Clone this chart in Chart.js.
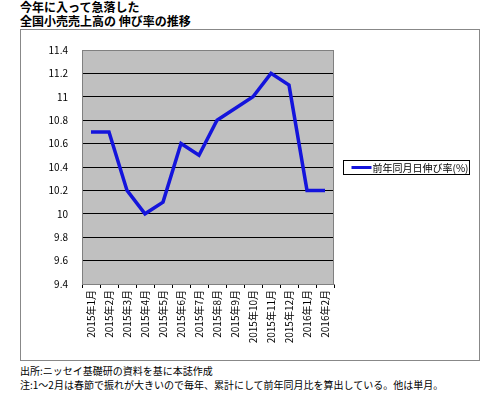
<!DOCTYPE html>
<html>
<head>
<meta charset="utf-8">
<script src="https://cdn.jsdelivr.net/npm/chart.js@4"></script>
<style>
  html, body { margin:0; padding:0; background:#fff; }
  body { width:500px; height:397px; position:relative; overflow:hidden;
         font-family:"Noto Sans CJK JP", "Noto Sans", sans-serif; color:#000; }
  .title { position:absolute; left:20px; top:0px; font-size:12px; font-weight:bold; line-height:14px; }
  .frame { position:absolute; left:20px; top:29px; width:460px; height:332px;
           border:1px solid #888; box-sizing:border-box; }
  .frame canvas { position:absolute; left:0; top:0; }
  .note { position:absolute; left:20px; top:364px; font-size:10px; line-height:14px; }
</style>
</head>
<body>
<div class="title">今年に入って急落した<br>全国小売売上高の 伸び率の推移</div>
<div class="frame"><canvas id="c" width="458" height="330"></canvas></div>
<div class="note">出所:ニッセイ基礎研の資料を基に本誌作成<br>注:1～2月は春節で振れが大きいので毎年、累計にして前年同月比を算出している。他は単月。</div>
<script>
// months on the x axis
const months = ['2015年1月','2015年2月','2015年3月','2015年4月','2015年5月','2015年6月','2015年7月',
                '2015年8月','2015年9月','2015年10月','2015年11月','2015年12月','2016年1月','2016年2月'];
// 前年同月日伸び率 (%)
const growth = [10.7, 10.7, 10.2, 10.0, 10.1, 10.6, 10.5, 10.8, 10.9, 11.0, 11.2, 11.1, 10.2, 10.2];
const yMin = 9.4, yMax = 11.4, yStep = 0.2;
const seriesName = '前年同月日伸び率(%)';

const FONT = '"Noto Sans CJK JP", "Noto Sans", sans-serif';
const LINE = '#1414dc';

// grey plot background + grey border round the plot
const plotBg = {
  id: 'plotBg',
  beforeDraw(chart){
    const a = chart.chartArea, ctx = chart.ctx;
    ctx.save();
    ctx.fillStyle = '#c0c0c0';
    ctx.fillRect(a.left, a.top, a.right - a.left, a.bottom - a.top);
    ctx.restore();
  },
  afterDatasetsDraw(chart){
    const a = chart.chartArea, ctx = chart.ctx;
    ctx.save();
    ctx.strokeStyle = '#808080';
    ctx.lineWidth = 1;
    ctx.strokeRect(a.left + 0.5, a.top + 0.5, a.right - a.left - 1, a.bottom - a.top);
    ctx.restore();
  }
};

// boxed legend to the right of the plot, spreadsheet style
const sideLegend = {
  id: 'sideLegend',
  afterDraw(chart){
    const a = chart.chartArea, ctx = chart.ctx;
    const ds = chart.data.datasets[0];
    const x = Math.round(a.right) + 9.5, w = 126, h = 14;
    const y = Math.round((a.top + a.bottom) / 2 - h / 2) + 0.5;
    ctx.save();
    ctx.fillStyle = '#fff';
    ctx.fillRect(x, y, w, h);
    ctx.strokeStyle = '#000';
    ctx.lineWidth = 1;
    ctx.strokeRect(x, y, w, h);
    ctx.strokeStyle = ds.borderColor;
    ctx.lineWidth = 3;
    ctx.beginPath();
    ctx.moveTo(x + 8, y + h / 2);
    ctx.lineTo(x + 28, y + h / 2);
    ctx.stroke();
    ctx.fillStyle = '#000';
    ctx.font = '10px ' + FONT;
    ctx.textBaseline = 'middle';
    ctx.fillText(ds.label, x + 29, y + h / 2 + 0.5);
    ctx.restore();
  }
};

new Chart(document.getElementById('c').getContext('2d'), {
  type: 'line',
  data: {
    labels: months,
    datasets: [{
      label: seriesName,
      data: growth,
      borderColor: LINE,
      backgroundColor: LINE,
      borderWidth: 3.5,
      pointRadius: 0,
      tension: 0,
    }],
  },
  options: {
    responsive: false,
    animation: false,
    layout: { padding: { left: 0, top: 9, right: 145, bottom: 0 } },
    plugins: {
      legend: { display: false },
      tooltip: { enabled: false },
    },
    scales: {
      x: {
        offset: true,
        afterFit(s){ s.height = 76; },
        grid: { offset: true, drawOnChartArea: false, color: '#000', tickLength: 4 },
        border: { color: '#808080' },
        ticks: {
          color: '#000', font: { family: FONT, size: 10 },
          minRotation: 90, maxRotation: 90, autoSkip: false, padding: 2,
        },
      },
      y: {
        min: yMin, max: yMax,
        afterFit(s){ s.width = 61; },
        grid: { color: '#000', drawTicks: false },
        border: { color: '#808080' },
        ticks: {
          stepSize: yStep, color: '#000', padding: 14,
          font: { family: FONT, size: 10 },
          callback: v => String(+v.toFixed(1)),
        },
      },
    },
  },
  plugins: [plotBg, sideLegend],
});
</script>
</body>
</html>
